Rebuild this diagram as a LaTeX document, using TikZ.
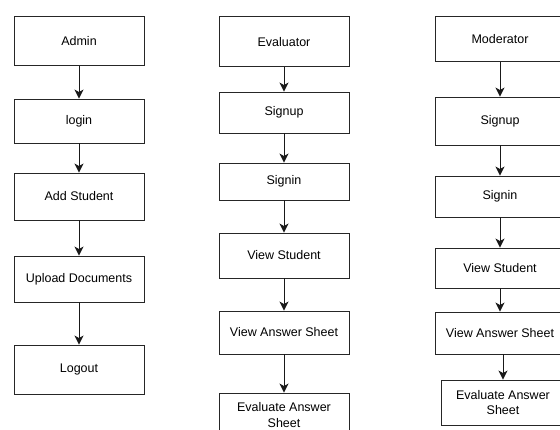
\documentclass[tikz,border=0pt]{standalone}
\usepackage{fontspec}
\setmainfont{Liberation Sans}
\usetikzlibrary{arrows.meta}

\begin{document}
\begin{tikzpicture}[x=1pt,y=-1pt,
  box/.style={draw=black!85,line width=0.9pt,fill=white,inner sep=0pt,
    align=center,minimum width=130pt,font=\fontsize{12.5}{15.5}\selectfont},
  flow/.style={draw=black!90,line width=1pt,
    -{Stealth[length=9pt,width=9pt,inset=2.5pt]}}]

  \clip (0,0) rectangle (560,430);

  % admin
  \node[box,minimum height=49pt] (admin) at (79,41.3) {Admin};
  \node[box,minimum height=44pt] (login) at (79,121) {login};
  \node[box,minimum height=47pt] (addstu) at (79,196.5) {Add Student};
  \node[box,minimum height=46pt] (upload) at (79,279) {Upload Documents};
  \node[box,minimum height=49pt] (logout) at (79,369.5) {Logout};

  \draw[flow] (admin) -- (login);
  \draw[flow] (login) -- (addstu);
  \draw[flow] (addstu) -- (upload);
  \draw[flow] (upload) -- (logout);

  % evaluator
  \node[box,minimum height=50pt] (eval) at (284,41.7) {Evaluator};
  \node[box,minimum height=41pt] (esignup) at (284,112.5) {Signup};
  \node[box,minimum height=37pt] (esignin) at (284,181.5) {Signin};
  \node[box,minimum height=45pt] (eviewstu) at (284,255.5) {View Student};
  \node[box,minimum height=43pt] (eviewans) at (284,332.5) {View Answer Sheet};
  \node[box,minimum height=44pt] (eevalans) at (284,415) {Evaluate Answer\\Sheet};

  \draw[flow] (eval) -- (esignup);
  \draw[flow] (esignup) -- (esignin);
  \draw[flow] (esignin) -- (eviewstu);
  \draw[flow] (eviewstu) -- (eviewans);
  \draw[flow] (eviewans) -- (eevalans);

  % moderator
  \node[box,minimum height=45pt] (mod) at (500,39.3) {Moderator};
  \node[box,minimum height=48pt] (msignup) at (500,121) {Signup};
  \node[box,minimum height=41pt] (msignin) at (500,196.5) {Signin};
  \node[box,minimum height=40pt] (mviewstu) at (500,268) {View Student};
  \node[box,minimum height=42pt] (mviewans) at (500,333) {View Answer Sheet};
  \node[box,minimum width=124pt,minimum height=45pt] (mevalans) at (503,402.5) {Evaluate Answer\\Sheet};

  \draw[flow] (mod) -- (msignup);
  \draw[flow] (msignup) -- (msignin);
  \draw[flow] (msignin) -- (mviewstu);
  \draw[flow] (mviewstu) -- (mviewans);
  \draw[flow] (mevalans.north |- mviewans.south) -- (mevalans.north);
\end{tikzpicture}
\end{document}
